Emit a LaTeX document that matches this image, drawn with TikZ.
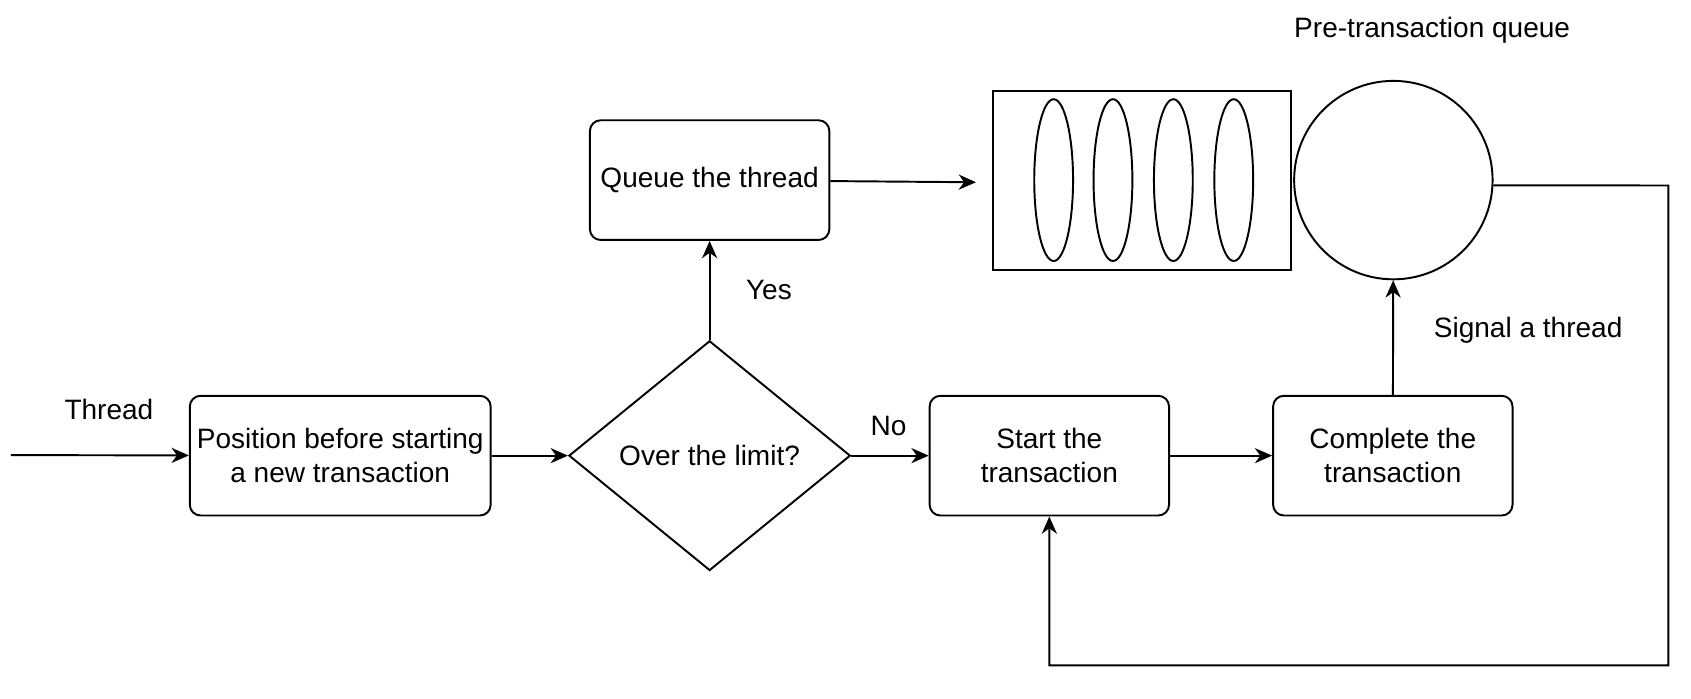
\documentclass[tikz,border=0pt]{standalone}
\usepackage{fontspec}
\setmainfont{Liberation Sans}
\usetikzlibrary{shapes.geometric,arrows.meta}

\begin{document}
\begin{tikzpicture}[x=0.5pt,y=-0.5pt,line width=0.9pt,
    every node/.style={font=\fontsize{13}{15.5}\selectfont},
    stepbox/.style={draw,rounded corners=5pt,align=center,minimum width=111pt,minimum height=55.5pt,inner sep=2pt,yshift=-1pt},
    decision/.style={draw,diamond,minimum width=130.5pt,minimum height=106.5pt,inner sep=0pt},
    slot/.style={draw,ellipse,minimum width=18pt,minimum height=75pt,inner sep=0pt},
    arr/.style={-{Stealth[length=8pt,width=7pt,inset=2.5pt]}}]
    \useasboundingbox (0,0) rectangle (1568,648);

    % Coordinates
    \coordinate (in) at (10,422);
    \coordinate (qin) at (905,169);
    \coordinate (loopne) at (1547,172);
    \coordinate (loopse) at (1547,617);

    % Flow nodes
    \node[stepbox,minimum width=139.5pt] (pos) at (315.5,420.5) {Position before starting\\a new transaction};
    \node[decision] (limit) at (658,422.5) {Over the limit?};
    \node[stepbox] (wait) at (658,165) {Queue the thread};
    \node[stepbox] (start) at (973,420.5) {Start the\\transaction};
    \node[stepbox] (done) at (1291.5,420.5) {Complete the\\transaction};

    % Queue
    \node[draw,minimum width=138pt,minimum height=83pt,inner sep=0pt] (queue) at (1059,167) {};
    \foreach \x [count=\i] in {977,1032,1088,1144} \node[slot] (slot\i) at (\x,167) {};
    \node[draw,circle,minimum size=92pt,inner sep=0pt] (pool) at (1292,167) {};

    % Edges
    \draw[arr] (in) -- (pos);
    \draw[arr] (pos) -- (limit);
    \draw[arr] (limit) -- (wait);
    \draw[arr] (limit) -- (start);
    \draw[arr] (wait) -- (qin);
    \draw[arr] (start) -- (done);
    \draw[arr] (done) -- (pool);
    \draw[arr] (pool.-3) -- (loopne) -- (loopse) -| (start.south);

    % Text
    \node (lthread) at (101,380) {Thread};
    \node (lyes) at (713,269) {Yes};
    \node (lno) at (824,395) {No};
    \node (lsignal) at (1417,306) {Signal a thread};
    \node (lqueue) at (1328,28) {Pre-transaction queue};
\end{tikzpicture}
\end{document}
